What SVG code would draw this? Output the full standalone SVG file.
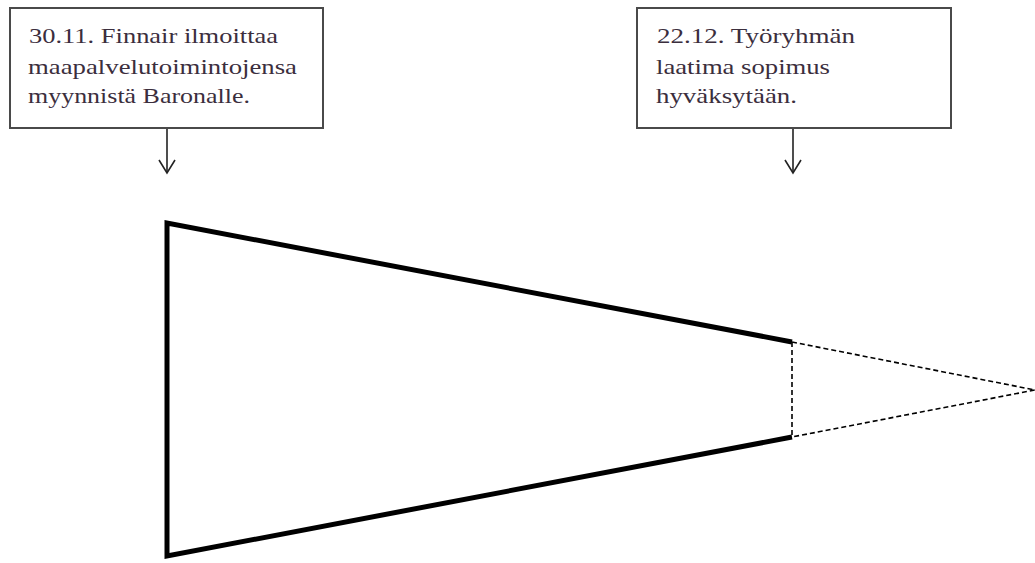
<svg xmlns="http://www.w3.org/2000/svg" width="1035" height="563" viewBox="0 0 1035 563">
<style>
.box{fill:#fff;stroke:#4a4a4a;stroke-width:2}
.t{font-size:22px;fill:#3b2e3d}
.arr{stroke:#222;stroke-width:1.6;fill:none}
.thick{stroke:#000;stroke-width:5;fill:none;stroke-linejoin:miter}
.dash{stroke:#000;stroke-width:1.6;fill:none;stroke-dasharray:5 3}
</style>
<rect width="1035" height="563" fill="#fff"/>
<g id="box1" font-family="'Liberation Serif', 'Times New Roman', serif">
<rect class="box" x="10" y="8" width="313" height="120"/>
<text class="t" x="29" y="43" textLength="249" lengthAdjust="spacingAndGlyphs">30.11. Finnair ilmoittaa</text>
<text class="t" x="28" y="74" textLength="269" lengthAdjust="spacingAndGlyphs">maapalvelutoimintojensa</text>
<text class="t" x="28" y="103" textLength="222" lengthAdjust="spacingAndGlyphs">myynnistä Baronalle.</text>
</g>
<g id="box2" font-family="'Liberation Serif', 'Times New Roman', serif">
<rect class="box" x="637" y="8" width="314" height="120"/>
<text class="t" x="657" y="43" textLength="198" lengthAdjust="spacingAndGlyphs">22.12. Työryhmän</text>
<text class="t" x="656" y="74" textLength="174" lengthAdjust="spacingAndGlyphs">laatima sopimus</text>
<text class="t" x="656" y="103" textLength="141" lengthAdjust="spacingAndGlyphs">hyväksytään.</text>
</g>
<g id="funnel">
<polyline class="thick" points="792,342 167,223 167,556 792,437"/>
<polyline class="dash" points="792,342 1035,390 792,437"/>
<line class="dash" x1="792" y1="342" x2="792" y2="437"/>
</g>
<g id="connectors">
<line class="arr" x1="167" y1="129" x2="167" y2="173"/>
<polyline class="arr" points="159,160 167,173 175,160"/>
<line class="arr" x1="793" y1="129" x2="793" y2="173"/>
<polyline class="arr" points="785,160 793,173 801,160"/>
</g>
</svg>
